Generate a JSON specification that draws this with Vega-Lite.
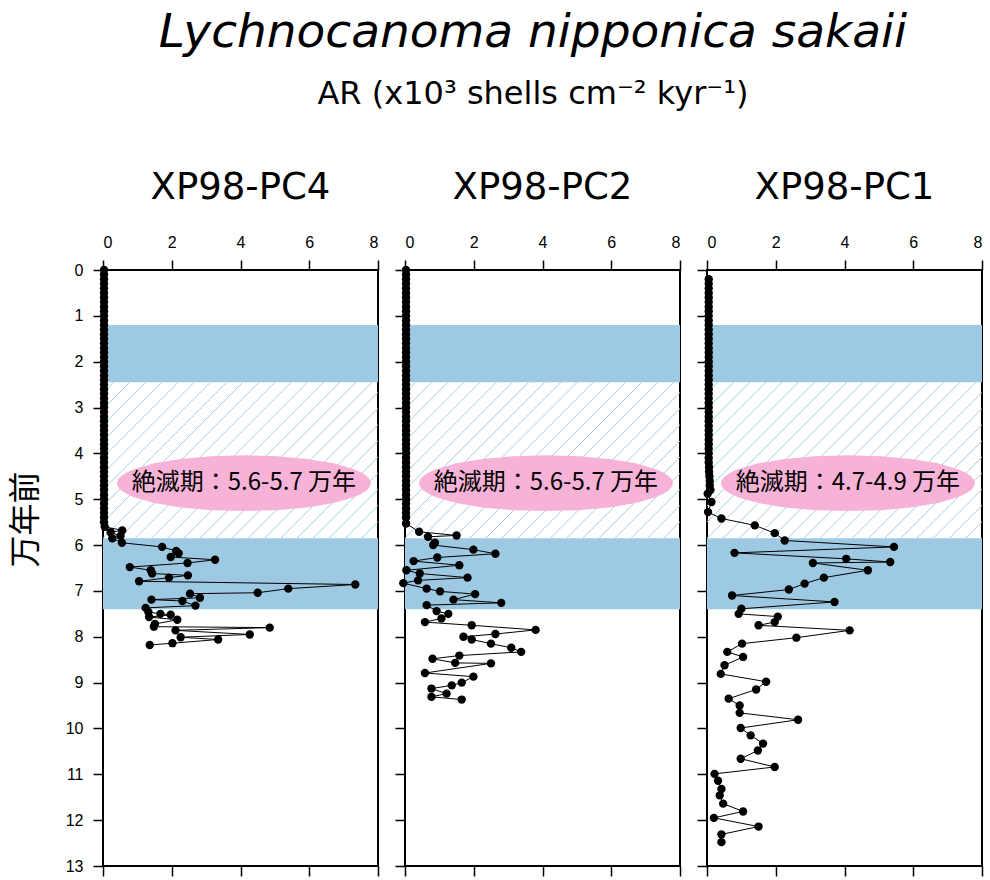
{
  "$schema": "https://vega.github.io/schema/vega-lite/v6.json",
  "description": "Lychnocanoma nipponica sakaii accumulation rate, three cores",
  "padding": {"left": 8, "top": 9, "right": 0, "bottom": 5},
  "title": {
    "text": "Lychnocanoma nipponica sakaii",
    "subtitle": "AR (x10³ shells cm⁻² kyr⁻¹)",
    "font": "DejaVu Sans",
    "fontSize": 47,
    "fontStyle": "italic",
    "fontWeight": "normal",
    "color": "black",
    "subtitleFont": "DejaVu Sans",
    "subtitleFontSize": 32,
    "subtitleColor": "black",
    "subtitlePadding": 22,
    "anchor": "middle",
    "frame": "bounds",
    "dx": 37,
    "offset": 57
  },
  "datasets": {
    "bandRows": [{"t": 1.2, "t2": 2.45}, {"t": 5.85, "t2": 7.4}],
    "hatchRows": [
      {"v": -4.23, "v2": 0.305}, {"v": -3.76, "v2": 0.775}, {"v": -3.29, "v2": 1.245},
      {"v": -2.82, "v2": 1.715}, {"v": -2.35, "v2": 2.185}, {"v": -1.88, "v2": 2.655},
      {"v": -1.41, "v2": 3.125}, {"v": -0.94, "v2": 3.595}, {"v": -0.47, "v2": 4.065},
      {"v": 0, "v2": 4.535}, {"v": 0.47, "v2": 5.005}, {"v": 0.94, "v2": 5.475},
      {"v": 1.41, "v2": 5.945}, {"v": 1.88, "v2": 6.415}, {"v": 2.35, "v2": 6.885},
      {"v": 2.82, "v2": 7.355}, {"v": 3.29, "v2": 7.825}, {"v": 3.76, "v2": 8.295},
      {"v": 4.23, "v2": 8.765}, {"v": 4.7, "v2": 9.235}, {"v": 5.17, "v2": 9.705},
      {"v": 5.64, "v2": 10.175}, {"v": 6.11, "v2": 10.645}, {"v": 6.58, "v2": 11.115},
      {"v": 7.05, "v2": 11.585}, {"v": 7.52, "v2": 12.055}, {"v": 7.99, "v2": 12.525}
    ],
    "noteRows": [
      {"core": "PC4", "t": 4.65, "v": 4.1, "label": "絶滅期：5.6-5.7 万年"},
      {"core": "PC2", "t": 4.65, "v": 4.1, "label": "絶滅期：5.6-5.7 万年"},
      {"core": "PC1", "t": 4.65, "v": 4.1, "label": "絶滅期：4.7-4.9 万年"}
    ],
    "pc4Rows": [
      {"t": 0, "v": 0.03}, {"t": 0.1, "v": 0.03}, {"t": 0.2, "v": 0.03}, {"t": 0.3, "v": 0.03},
      {"t": 0.4, "v": 0.03}, {"t": 0.5, "v": 0.03}, {"t": 0.6, "v": 0.03}, {"t": 0.7, "v": 0.03},
      {"t": 0.8, "v": 0.03}, {"t": 0.9, "v": 0.03}, {"t": 1.0, "v": 0.03}, {"t": 1.1, "v": 0.03},
      {"t": 1.2, "v": 0.03}, {"t": 1.3, "v": 0.03}, {"t": 1.4, "v": 0.03}, {"t": 1.5, "v": 0.03},
      {"t": 1.6, "v": 0.03}, {"t": 1.7, "v": 0.03}, {"t": 1.8, "v": 0.03}, {"t": 1.9, "v": 0.03},
      {"t": 2.0, "v": 0.03}, {"t": 2.1, "v": 0.03}, {"t": 2.2, "v": 0.03}, {"t": 2.3, "v": 0.03},
      {"t": 2.4, "v": 0.03}, {"t": 2.5, "v": 0.03}, {"t": 2.6, "v": 0.03}, {"t": 2.7, "v": 0.03},
      {"t": 2.8, "v": 0.03}, {"t": 2.9, "v": 0.03}, {"t": 3.0, "v": 0.03}, {"t": 3.1, "v": 0.03},
      {"t": 3.2, "v": 0.03}, {"t": 3.3, "v": 0.03}, {"t": 3.4, "v": 0.03}, {"t": 3.5, "v": 0.03},
      {"t": 3.6, "v": 0.03}, {"t": 3.7, "v": 0.03}, {"t": 3.8, "v": 0.03}, {"t": 3.9, "v": 0.03},
      {"t": 4.0, "v": 0.03}, {"t": 4.1, "v": 0.03}, {"t": 4.2, "v": 0.03}, {"t": 4.3, "v": 0.03},
      {"t": 4.4, "v": 0.03}, {"t": 4.5, "v": 0.03}, {"t": 4.6, "v": 0.03}, {"t": 4.7, "v": 0.03},
      {"t": 4.8, "v": 0.03}, {"t": 4.9, "v": 0.03}, {"t": 5.0, "v": 0.03}, {"t": 5.1, "v": 0.03},
      {"t": 5.2, "v": 0.03}, {"t": 5.3, "v": 0.03}, {"t": 5.4, "v": 0.03}, {"t": 5.5, "v": 0.03},
      {"t": 5.6, "v": 0.05}, {"t": 5.68, "v": 0.56}, {"t": 5.72, "v": 0.22}, {"t": 5.8, "v": 0.51},
      {"t": 5.85, "v": 0.27}, {"t": 5.95, "v": 0.55}, {"t": 6.04, "v": 1.72}, {"t": 6.13, "v": 2.13},
      {"t": 6.18, "v": 2.2}, {"t": 6.26, "v": 1.97}, {"t": 6.32, "v": 3.26}, {"t": 6.39, "v": 2.46},
      {"t": 6.48, "v": 0.78}, {"t": 6.55, "v": 1.39}, {"t": 6.62, "v": 1.43}, {"t": 6.66, "v": 2.47},
      {"t": 6.71, "v": 1.92}, {"t": 6.79, "v": 1.05}, {"t": 6.86, "v": 7.34}, {"t": 6.95, "v": 5.39},
      {"t": 7.04, "v": 4.5}, {"t": 7.06, "v": 2.53}, {"t": 7.15, "v": 2.82}, {"t": 7.19, "v": 1.41},
      {"t": 7.22, "v": 2.31}, {"t": 7.32, "v": 2.69}, {"t": 7.37, "v": 1.24}, {"t": 7.46, "v": 1.32},
      {"t": 7.5, "v": 1.67}, {"t": 7.52, "v": 1.97}, {"t": 7.57, "v": 1.34}, {"t": 7.63, "v": 2.16},
      {"t": 7.72, "v": 1.51}, {"t": 7.78, "v": 1.48}, {"t": 7.8, "v": 4.85}, {"t": 7.86, "v": 2.11},
      {"t": 7.95, "v": 4.27}, {"t": 8.01, "v": 2.26}, {"t": 8.06, "v": 3.35}, {"t": 8.14, "v": 2.02},
      {"t": 8.18, "v": 1.36}
    ],
    "pc2Rows": [
      {"t": 0, "v": 0.03}, {"t": 0.1, "v": 0.03}, {"t": 0.2, "v": 0.03}, {"t": 0.3, "v": 0.03},
      {"t": 0.4, "v": 0.03}, {"t": 0.5, "v": 0.03}, {"t": 0.6, "v": 0.03}, {"t": 0.7, "v": 0.03},
      {"t": 0.8, "v": 0.03}, {"t": 0.9, "v": 0.03}, {"t": 1.0, "v": 0.03}, {"t": 1.1, "v": 0.03},
      {"t": 1.2, "v": 0.03}, {"t": 1.3, "v": 0.03}, {"t": 1.4, "v": 0.03}, {"t": 1.5, "v": 0.03},
      {"t": 1.6, "v": 0.03}, {"t": 1.7, "v": 0.03}, {"t": 1.8, "v": 0.03}, {"t": 1.9, "v": 0.03},
      {"t": 2.0, "v": 0.03}, {"t": 2.1, "v": 0.03}, {"t": 2.2, "v": 0.03}, {"t": 2.3, "v": 0.03},
      {"t": 2.4, "v": 0.03}, {"t": 2.5, "v": 0.03}, {"t": 2.6, "v": 0.03}, {"t": 2.7, "v": 0.03},
      {"t": 2.8, "v": 0.03}, {"t": 2.9, "v": 0.03}, {"t": 3.0, "v": 0.03}, {"t": 3.1, "v": 0.03},
      {"t": 3.2, "v": 0.03}, {"t": 3.3, "v": 0.03}, {"t": 3.4, "v": 0.03}, {"t": 3.5, "v": 0.03},
      {"t": 3.6, "v": 0.03}, {"t": 3.7, "v": 0.03}, {"t": 3.8, "v": 0.03}, {"t": 3.9, "v": 0.03},
      {"t": 4.0, "v": 0.03}, {"t": 4.1, "v": 0.03}, {"t": 4.2, "v": 0.03}, {"t": 4.3, "v": 0.03},
      {"t": 4.4, "v": 0.03}, {"t": 4.5, "v": 0.03}, {"t": 4.6, "v": 0.03}, {"t": 4.7, "v": 0.03},
      {"t": 4.8, "v": 0.03}, {"t": 4.9, "v": 0.03}, {"t": 5.0, "v": 0.03}, {"t": 5.1, "v": 0.03},
      {"t": 5.2, "v": 0.03}, {"t": 5.3, "v": 0.03}, {"t": 5.4, "v": 0.03}, {"t": 5.53, "v": 0.03},
      {"t": 5.71, "v": 0.41}, {"t": 5.79, "v": 1.5}, {"t": 5.82, "v": 0.67}, {"t": 5.95, "v": 0.87},
      {"t": 6.0, "v": 0.82}, {"t": 6.1, "v": 1.99}, {"t": 6.19, "v": 2.63}, {"t": 6.27, "v": 0.94},
      {"t": 6.35, "v": 0.25}, {"t": 6.44, "v": 1.58}, {"t": 6.55, "v": 0.04}, {"t": 6.62, "v": 0.43},
      {"t": 6.71, "v": 1.82}, {"t": 6.77, "v": 0.38}, {"t": 6.83, "v": -0.05}, {"t": 6.95, "v": 0.63},
      {"t": 7.01, "v": 1.02}, {"t": 7.07, "v": 2.04}, {"t": 7.19, "v": 1.41}, {"t": 7.26, "v": 2.8},
      {"t": 7.31, "v": 0.63}, {"t": 7.44, "v": 0.92}, {"t": 7.5, "v": 1.26}, {"t": 7.6, "v": 1.06},
      {"t": 7.68, "v": 0.58}, {"t": 7.75, "v": 1.94}, {"t": 7.85, "v": 3.8}, {"t": 7.94, "v": 2.63},
      {"t": 8.0, "v": 1.7}, {"t": 8.06, "v": 1.94}, {"t": 8.15, "v": 2.5}, {"t": 8.24, "v": 3.09},
      {"t": 8.33, "v": 3.38}, {"t": 8.41, "v": 1.58}, {"t": 8.48, "v": 0.8}, {"t": 8.57, "v": 1.46},
      {"t": 8.58, "v": 2.5}, {"t": 8.79, "v": 0.58}, {"t": 8.87, "v": 1.99}, {"t": 9.0, "v": 1.65},
      {"t": 9.06, "v": 1.36}, {"t": 9.13, "v": 0.77}, {"t": 9.24, "v": 1.21}, {"t": 9.31, "v": 0.77},
      {"t": 9.37, "v": 1.65}
    ],
    "pc1Rows": [
      {"t": 0.2, "v": 0.05}, {"t": 0.3, "v": 0.05}, {"t": 0.4, "v": 0.05}, {"t": 0.5, "v": 0.05},
      {"t": 0.6, "v": 0.05}, {"t": 0.7, "v": 0.05}, {"t": 0.8, "v": 0.05}, {"t": 0.9, "v": 0.05},
      {"t": 1.0, "v": 0.05}, {"t": 1.1, "v": 0.05}, {"t": 1.2, "v": 0.05}, {"t": 1.3, "v": 0.05},
      {"t": 1.4, "v": 0.05}, {"t": 1.5, "v": 0.05}, {"t": 1.6, "v": 0.05}, {"t": 1.7, "v": 0.05},
      {"t": 1.8, "v": 0.05}, {"t": 1.9, "v": 0.05}, {"t": 2.0, "v": 0.05}, {"t": 2.1, "v": 0.05},
      {"t": 2.2, "v": 0.05}, {"t": 2.3, "v": 0.05}, {"t": 2.4, "v": 0.05}, {"t": 2.5, "v": 0.05},
      {"t": 2.6, "v": 0.05}, {"t": 2.7, "v": 0.05}, {"t": 2.8, "v": 0.05}, {"t": 2.9, "v": 0.05},
      {"t": 3.0, "v": 0.05}, {"t": 3.1, "v": 0.05}, {"t": 3.2, "v": 0.05}, {"t": 3.3, "v": 0.05},
      {"t": 3.4, "v": 0.05}, {"t": 3.5, "v": 0.05}, {"t": 3.6, "v": 0.05}, {"t": 3.7, "v": 0.05},
      {"t": 3.8, "v": 0.05}, {"t": 3.9, "v": 0.05}, {"t": 4.0, "v": 0.05}, {"t": 4.1, "v": 0.05},
      {"t": 4.2, "v": 0.05}, {"t": 4.3, "v": 0.06}, {"t": 4.4, "v": 0.06}, {"t": 4.5, "v": 0.07},
      {"t": 4.6, "v": 0.08}, {"t": 4.7, "v": 0.08}, {"t": 4.8, "v": 0.1}, {"t": 4.88, "v": 0.02},
      {"t": 5.06, "v": 0.13}, {"t": 5.28, "v": 0.03}, {"t": 5.42, "v": 0.42}, {"t": 5.57, "v": 1.39},
      {"t": 5.74, "v": 1.97}, {"t": 5.9, "v": 2.26}, {"t": 6.04, "v": 5.44}, {"t": 6.17, "v": 0.8},
      {"t": 6.3, "v": 4.05}, {"t": 6.37, "v": 5.33}, {"t": 6.39, "v": 3.08}, {"t": 6.55, "v": 4.68},
      {"t": 6.71, "v": 3.4}, {"t": 6.84, "v": 2.84}, {"t": 6.97, "v": 2.38}, {"t": 7.1, "v": 0.73},
      {"t": 7.24, "v": 3.71}, {"t": 7.39, "v": 1.0}, {"t": 7.5, "v": 0.92}, {"t": 7.56, "v": 2.06},
      {"t": 7.68, "v": 1.97}, {"t": 7.75, "v": 1.5}, {"t": 7.86, "v": 4.15}, {"t": 8.02, "v": 2.6},
      {"t": 8.15, "v": 1.02}, {"t": 8.33, "v": 0.59}, {"t": 8.44, "v": 1.05}, {"t": 8.62, "v": 0.51},
      {"t": 8.81, "v": 0.4}, {"t": 8.98, "v": 1.72}, {"t": 9.15, "v": 1.43}, {"t": 9.35, "v": 0.63},
      {"t": 9.5, "v": 0.95}, {"t": 9.66, "v": 0.95}, {"t": 9.81, "v": 2.65}, {"t": 9.99, "v": 0.98},
      {"t": 10.15, "v": 1.27}, {"t": 10.33, "v": 1.63}, {"t": 10.48, "v": 1.48}, {"t": 10.66, "v": 0.98},
      {"t": 10.84, "v": 1.97}, {"t": 10.99, "v": 0.22}, {"t": 11.14, "v": 0.32}, {"t": 11.32, "v": 0.42},
      {"t": 11.46, "v": 0.37}, {"t": 11.64, "v": 0.47}, {"t": 11.81, "v": 1.05}, {"t": 11.95, "v": 0.2},
      {"t": 12.14, "v": 1.5}, {"t": 12.31, "v": 0.42}, {"t": 12.48, "v": 0.42}
    ]
  },
  "spacing": 13,
  "hconcat": [
    {
      "width": 275,
      "height": 596,
      "title": {"text": "XP98-PC4"},
      "resolve": {"axis": {"x": "independent"}},
      "layer": [
        {
          "data": {"name": "bandRows"},
          "mark": {"type": "rect", "color": "#9ec9e2"},
          "encoding": {
            "x": {"datum": 0, "type": "quantitative", "scale": {"domain": [0, 8], "nice": false, "zero": false}, "axis": null},
            "x2": {"datum": 8},
            "y": {"field": "t", "type": "quantitative", "scale": {"domain": [0, 13], "reverse": true, "nice": false, "zero": false}, "axis": {"values": [0, 1, 2, 3, 4, 5, 6, 7, 8, 9, 10, 11, 12, 13], "title": "万年前", "titleFont": "Noto Sans CJK JP", "titleFontSize": 32, "titleFontWeight": "normal", "titleColor": "black", "titlePadding": 23, "titleY": 249}},
            "y2": {"field": "t2"}
          }
        },
        {
          "data": {"name": "hatchRows"},
          "mark": {"type": "rule", "color": "#a3cde6", "strokeWidth": 1, "clip": true},
          "encoding": {
            "x": {"field": "v", "type": "quantitative", "scale": {"domain": [0, 8], "nice": false, "zero": false}, "axis": null},
            "x2": {"field": "v2"},
            "y": {"datum": 5.85, "type": "quantitative"},
            "y2": {"datum": 2.45}
          }
        },
        {
          "data": {"name": "noteRows"},
          "transform": [{"filter": "datum.core == 'PC4'"}],
          "mark": {"type": "point", "shape": "M1,0L0.991,0.029L0.966,0.057L0.924,0.084L0.866,0.11L0.707,0.156L0.5,0.191L0.259,0.213L0,0.22L-0.259,0.213L-0.5,0.191L-0.707,0.156L-0.866,0.11L-0.924,0.084L-0.966,0.057L-0.991,0.029L-1,0L-0.991,-0.029L-0.966,-0.057L-0.924,-0.084L-0.866,-0.11L-0.707,-0.156L-0.5,-0.191L-0.259,-0.213L0,-0.22L0.259,-0.213L0.5,-0.191L0.707,-0.156L0.866,-0.11L0.924,-0.084L0.966,-0.057L0.991,-0.029Z", "size": 64516, "filled": true, "color": "#f7b3d7", "opacity": 1, "strokeWidth": 0},
          "encoding": {
            "x": {"field": "v", "type": "quantitative", "axis": null},
            "y": {"field": "t", "type": "quantitative"}
          }
        },
        {
          "data": {"name": "noteRows"},
          "transform": [{"filter": "datum.core == 'PC4'"}],
          "mark": {"type": "text", "font": "Noto Sans CJK JP", "fontSize": 24, "color": "black", "align": "center", "baseline": "middle"},
          "encoding": {
            "x": {"field": "v", "type": "quantitative", "axis": null},
            "y": {"field": "t", "type": "quantitative"},
            "text": {"field": "label"}
          }
        },
        {
          "data": {"name": "pc4Rows"},
          "mark": {"type": "line", "color": "black", "strokeWidth": 1},
          "encoding": {
            "x": {"field": "v", "type": "quantitative", "axis": {"orient": "bottom", "values": [0, 2, 4, 6, 8], "labels": false, "title": null}},
            "y": {"field": "t", "type": "quantitative"},
            "order": {"field": "t", "type": "quantitative"}
          }
        },
        {
          "data": {"name": "pc4Rows"},
          "mark": {"type": "circle", "color": "black", "size": 70, "opacity": 1},
          "encoding": {
            "x": {"field": "v", "type": "quantitative", "axis": {"orient": "top", "values": [0, 2, 4, 6, 8], "title": null}},
            "y": {"field": "t", "type": "quantitative"}
          }
        }
      ]
    },
    {
      "width": 275,
      "height": 596,
      "title": {"text": "XP98-PC2"},
      "resolve": {"axis": {"x": "independent"}},
      "layer": [
        {
          "data": {"name": "bandRows"},
          "mark": {"type": "rect", "color": "#9ec9e2"},
          "encoding": {
            "x": {"datum": 0, "type": "quantitative", "scale": {"domain": [0, 8], "nice": false, "zero": false}, "axis": null},
            "x2": {"datum": 8},
            "y": {"field": "t", "type": "quantitative", "scale": {"domain": [0, 13], "reverse": true, "nice": false, "zero": false}, "axis": {"values": [0, 1, 2, 3, 4, 5, 6, 7, 8, 9, 10, 11, 12, 13], "labels": false, "title": null}},
            "y2": {"field": "t2"}
          }
        },
        {
          "data": {"name": "hatchRows"},
          "mark": {"type": "rule", "color": "#a3cde6", "strokeWidth": 1, "clip": true},
          "encoding": {
            "x": {"field": "v", "type": "quantitative", "scale": {"domain": [0, 8], "nice": false, "zero": false}, "axis": null},
            "x2": {"field": "v2"},
            "y": {"datum": 5.85, "type": "quantitative"},
            "y2": {"datum": 2.45}
          }
        },
        {
          "data": {"name": "noteRows"},
          "transform": [{"filter": "datum.core == 'PC2'"}],
          "mark": {"type": "point", "shape": "M1,0L0.991,0.029L0.966,0.057L0.924,0.084L0.866,0.11L0.707,0.156L0.5,0.191L0.259,0.213L0,0.22L-0.259,0.213L-0.5,0.191L-0.707,0.156L-0.866,0.11L-0.924,0.084L-0.966,0.057L-0.991,0.029L-1,0L-0.991,-0.029L-0.966,-0.057L-0.924,-0.084L-0.866,-0.11L-0.707,-0.156L-0.5,-0.191L-0.259,-0.213L0,-0.22L0.259,-0.213L0.5,-0.191L0.707,-0.156L0.866,-0.11L0.924,-0.084L0.966,-0.057L0.991,-0.029Z", "size": 64516, "filled": true, "color": "#f7b3d7", "opacity": 1, "strokeWidth": 0},
          "encoding": {
            "x": {"field": "v", "type": "quantitative", "axis": null},
            "y": {"field": "t", "type": "quantitative"}
          }
        },
        {
          "data": {"name": "noteRows"},
          "transform": [{"filter": "datum.core == 'PC2'"}],
          "mark": {"type": "text", "font": "Noto Sans CJK JP", "fontSize": 24, "color": "black", "align": "center", "baseline": "middle"},
          "encoding": {
            "x": {"field": "v", "type": "quantitative", "axis": null},
            "y": {"field": "t", "type": "quantitative"},
            "text": {"field": "label"}
          }
        },
        {
          "data": {"name": "pc2Rows"},
          "mark": {"type": "line", "color": "black", "strokeWidth": 1},
          "encoding": {
            "x": {"field": "v", "type": "quantitative", "axis": {"orient": "bottom", "values": [0, 2, 4, 6, 8], "labels": false, "title": null}},
            "y": {"field": "t", "type": "quantitative"},
            "order": {"field": "t", "type": "quantitative"}
          }
        },
        {
          "data": {"name": "pc2Rows"},
          "mark": {"type": "circle", "color": "black", "size": 70, "opacity": 1},
          "encoding": {
            "x": {"field": "v", "type": "quantitative", "axis": {"orient": "top", "values": [0, 2, 4, 6, 8], "title": null}},
            "y": {"field": "t", "type": "quantitative"}
          }
        }
      ]
    },
    {
      "width": 275,
      "height": 596,
      "title": {"text": "XP98-PC1"},
      "resolve": {"axis": {"x": "independent"}},
      "layer": [
        {
          "data": {"name": "bandRows"},
          "mark": {"type": "rect", "color": "#9ec9e2"},
          "encoding": {
            "x": {"datum": 0, "type": "quantitative", "scale": {"domain": [0, 8], "nice": false, "zero": false}, "axis": null},
            "x2": {"datum": 8},
            "y": {"field": "t", "type": "quantitative", "scale": {"domain": [0, 13], "reverse": true, "nice": false, "zero": false}, "axis": {"values": [0, 1, 2, 3, 4, 5, 6, 7, 8, 9, 10, 11, 12, 13], "labels": false, "title": null}},
            "y2": {"field": "t2"}
          }
        },
        {
          "data": {"name": "hatchRows"},
          "mark": {"type": "rule", "color": "#a3cde6", "strokeWidth": 1, "clip": true},
          "encoding": {
            "x": {"field": "v", "type": "quantitative", "scale": {"domain": [0, 8], "nice": false, "zero": false}, "axis": null},
            "x2": {"field": "v2"},
            "y": {"datum": 5.85, "type": "quantitative"},
            "y2": {"datum": 2.45}
          }
        },
        {
          "data": {"name": "noteRows"},
          "transform": [{"filter": "datum.core == 'PC1'"}],
          "mark": {"type": "point", "shape": "M1,0L0.991,0.029L0.966,0.057L0.924,0.084L0.866,0.11L0.707,0.156L0.5,0.191L0.259,0.213L0,0.22L-0.259,0.213L-0.5,0.191L-0.707,0.156L-0.866,0.11L-0.924,0.084L-0.966,0.057L-0.991,0.029L-1,0L-0.991,-0.029L-0.966,-0.057L-0.924,-0.084L-0.866,-0.11L-0.707,-0.156L-0.5,-0.191L-0.259,-0.213L0,-0.22L0.259,-0.213L0.5,-0.191L0.707,-0.156L0.866,-0.11L0.924,-0.084L0.966,-0.057L0.991,-0.029Z", "size": 64516, "filled": true, "color": "#f7b3d7", "opacity": 1, "strokeWidth": 0},
          "encoding": {
            "x": {"field": "v", "type": "quantitative", "axis": null},
            "y": {"field": "t", "type": "quantitative"}
          }
        },
        {
          "data": {"name": "noteRows"},
          "transform": [{"filter": "datum.core == 'PC1'"}],
          "mark": {"type": "text", "font": "Noto Sans CJK JP", "fontSize": 24, "color": "black", "align": "center", "baseline": "middle"},
          "encoding": {
            "x": {"field": "v", "type": "quantitative", "axis": null},
            "y": {"field": "t", "type": "quantitative"},
            "text": {"field": "label"}
          }
        },
        {
          "data": {"name": "pc1Rows"},
          "mark": {"type": "line", "color": "black", "strokeWidth": 1},
          "encoding": {
            "x": {"field": "v", "type": "quantitative", "axis": {"orient": "bottom", "values": [0, 2, 4, 6, 8], "labels": false, "title": null}},
            "y": {"field": "t", "type": "quantitative"},
            "order": {"field": "t", "type": "quantitative"}
          }
        },
        {
          "data": {"name": "pc1Rows"},
          "mark": {"type": "circle", "color": "black", "size": 70, "opacity": 1},
          "encoding": {
            "x": {"field": "v", "type": "quantitative", "axis": {"orient": "top", "values": [0, 2, 4, 6, 8], "title": null}},
            "y": {"field": "t", "type": "quantitative"}
          }
        }
      ]
    }
  ],
  "config": {
    "view": {"stroke": "black", "strokeWidth": 2},
    "axis": {
      "domain": false,
      "grid": false,
      "tickColor": "black",
      "tickWidth": 1.5,
      "tickSize": 10,
      "labelFont": "Liberation Sans",
      "labelFontSize": 16,
      "labelColor": "black",
      "labelPadding": 10
    },
    "title": {
      "font": "DejaVu Sans",
      "fontSize": 37,
      "fontWeight": "normal",
      "color": "black",
      "anchor": "middle",
      "offset": 27
    }
  }
}
